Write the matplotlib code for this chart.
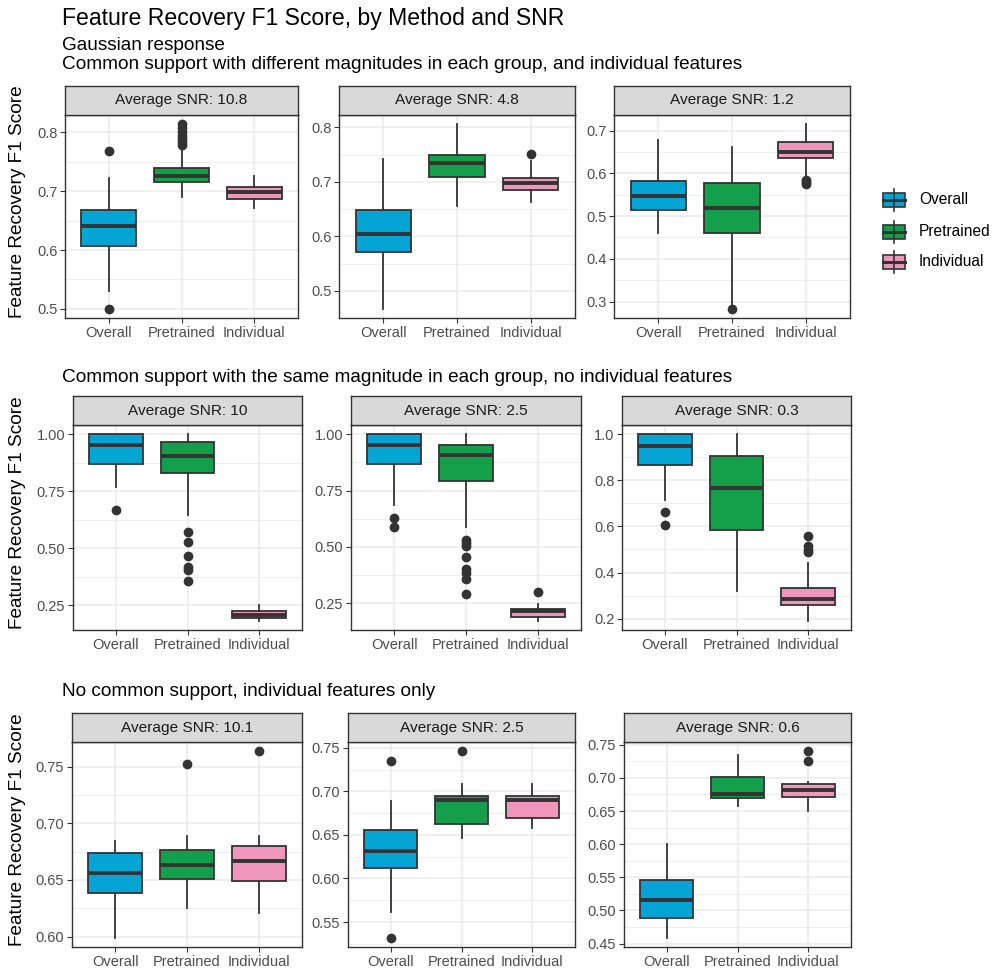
import matplotlib
matplotlib.use("Agg")
import matplotlib.pyplot as plt
from matplotlib.patches import Rectangle
from matplotlib.ticker import MultipleLocator, FormatStrFormatter

plt.rcParams['font.family'] = ['Liberation Sans', 'DejaVu Sans']

W, H = 993, 971

methods = ["Overall", "Pretrained", "Individual"]
colors = ["#04A4D4", "#14A04A", "#F096BC"]

title = "Feature Recovery F1 Score, by Method and SNR"
row_titles = [
    "Gaussian response\nCommon support with different magnitudes in each group, and individual features",
    "Common support with the same magnitude in each group, no individual features",
    "No common support, individual features only",
]
snr = ["10.8", "4.8", "1.2", "10", "2.5", "0.3", "10.1", "2.5", "0.6"]

# box statistics per panel (row-major), one value per method
q1 = [[0.607, 0.715, 0.687], [0.571, 0.709, 0.686], [0.515, 0.461, 0.637],
      [0.868, 0.831, 0.192], [0.866, 0.792, 0.190], [0.866, 0.585, 0.258],
      [0.638, 0.651, 0.649], [0.612, 0.662, 0.669], [0.488, 0.670, 0.671]]
med = [[0.641, 0.726, 0.699], [0.605, 0.735, 0.698], [0.546, 0.520, 0.651],
       [0.953, 0.907, 0.207], [0.954, 0.908, 0.217], [0.948, 0.769, 0.284],
       [0.656, 0.663, 0.667], [0.631, 0.690, 0.690], [0.516, 0.676, 0.681]]
q3 = [[0.668, 0.740, 0.707], [0.649, 0.750, 0.708], [0.583, 0.577, 0.674],
      [1.000, 0.966, 0.223], [1.000, 0.951, 0.224], [1.000, 0.907, 0.331],
      [0.674, 0.676, 0.680], [0.656, 0.695, 0.695], [0.546, 0.701, 0.690]]
lo = [[0.531, 0.691, 0.672], [0.467, 0.656, 0.664], [0.461, 0.292, 0.589],
      [0.769, 0.645, 0.182], [0.688, 0.588, 0.172], [0.714, 0.322, 0.191],
      [0.599, 0.625, 0.621], [0.561, 0.646, 0.658], [0.459, 0.658, 0.650]]
hi = [[0.723, 0.769, 0.726], [0.743, 0.806, 0.738], [0.678, 0.661, 0.715],
      [1.000, 1.000, 0.250], [1.000, 1.000, 0.245], [1.000, 1.000, 0.441],
      [0.684, 0.689, 0.689], [0.689, 0.709, 0.709], [0.601, 0.735, 0.693]]
fliers = [
    [[0.768, 0.500], [0.814, 0.808, 0.800, 0.794, 0.789, 0.783, 0.779], []],
    [[], [], [0.752]],
    [[], [0.283], [0.585, 0.580, 0.576]],
    [[0.667], [0.571, 0.527, 0.468, 0.417, 0.405, 0.357], []],
    [[0.628, 0.588], [0.529, 0.517, 0.502, 0.455, 0.401, 0.386, 0.357, 0.290], [0.299]],
    [[0.663, 0.607], [], [0.557, 0.514, 0.499, 0.488]],
    [[], [0.752], [0.7635]],
    [[0.735, 0.532], [0.746], []],
    [[], [], [0.740, 0.725]],
]
tick_step = [0.1, 0.1, 0.1, 0.25, 0.25, 0.2, 0.05, 0.05, 0.05]
tick_fmt = ["%.1f", "%.1f", "%.1f", "%.2f", "%.2f", "%.1f", "%.2f", "%.2f", "%.2f"]

# panel boxes in pixels: left, right, top (below strip), bottom
rows_px = [(115, 318), (425, 630), (742, 947)]
cols_px = [[(65, 298), (339, 575), (614, 850)],
           [(73, 302), (351, 581), (622, 851)],
           [(72, 302), (348, 575), (624, 851)]]
strip_h = 29
subtitle_y = [55, 377, 692]


def frac(l, t, r, b):
    return [l / W, 1 - b / H, (r - l) / W, (b - t) / H]


fig = plt.figure(figsize=(W / 100, H / 100), dpi=100)
fig.text(62 / W, 1 - 18 / H, title, fontsize=16.6, va='center', color='black')

dark = '#333333'
for r in range(3):
    t, b = rows_px[r]
    fig.text(62 / W, 1 - subtitle_y[r] / H, row_titles[r], fontsize=13.7,
             va='center', color='black', linespacing=1.15)
    fig.text(18 / W, 1 - (t + b - strip_h) / 2 / H, "Feature Recovery F1 Score",
             rotation=90, fontsize=13.7, va='center', ha='center')
    for c in range(3):
        k = r * 3 + c
        l, rr = cols_px[r][c]
        ax = fig.add_axes(frac(l, t, rr, b))
        stats = []
        for m in range(3):
            stats.append(dict(med=med[k][m], q1=q1[k][m], q3=q3[k][m],
                              whislo=lo[k][m], whishi=hi[k][m],
                              fliers=fliers[k][m]))
        bp = ax.bxp(stats, positions=[1, 2, 3], widths=0.75, patch_artist=True,
                    showcaps=False,
                    boxprops=dict(edgecolor=dark, linewidth=1.3),
                    medianprops=dict(color=dark, linewidth=2.8),
                    whiskerprops=dict(color=dark, linewidth=1.3),
                    flierprops=dict(marker='o', markerfacecolor=dark,
                                    markeredgecolor=dark, markersize=6))
        for patch, col in zip(bp['boxes'], colors):
            patch.set_facecolor(col)
        allv = [v for m in range(3) for v in [lo[k][m], hi[k][m]] + fliers[k][m]]
        vmin, vmax = min(allv), max(allv)
        pad = (vmax - vmin) * 0.05
        ax.set_ylim(vmin - pad, vmax + pad)
        ax.set_xlim(0.4, 3.6)
        ax.set_xticks([1, 2, 3])
        ax.set_xticklabels(methods)
        ax.yaxis.set_major_locator(MultipleLocator(tick_step[k]))
        ax.yaxis.set_minor_locator(MultipleLocator(tick_step[k] / 2))
        ax.yaxis.set_major_formatter(FormatStrFormatter(tick_fmt[k]))
        ax.set_axisbelow(True)
        ax.grid(True, which='major', color='#EBEBEB', linewidth=1.1)
        ax.grid(True, which='minor', axis='y', color='#EBEBEB', linewidth=0.6)
        ax.tick_params(axis='both', which='major', length=3.5, color=dark,
                       labelcolor='#4D4D4D', labelsize=10.5, pad=2)
        ax.tick_params(axis='y', which='minor', length=0)
        for s in ax.spines.values():
            s.set_color(dark)
            s.set_linewidth(1.0)
        # facet strip
        sax = fig.add_axes(frac(l, t - strip_h, rr, t))
        sax.set_facecolor('#D9D9D9')
        sax.set_xticks([])
        sax.set_yticks([])
        for s in sax.spines.values():
            s.set_color(dark)
            s.set_linewidth(1.0)
        sax.text(0.5, 0.5, "Average SNR: " + snr[k], ha='center', va='center',
                 fontsize=11.1, color='#1A1A1A', transform=sax.transAxes)

# legend with box-shaped keys
lax = fig.add_axes(frac(876, 180, 993, 280))
lax.set_xlim(0, 117)
lax.set_ylim(100, 0)
lax.axis('off')
key_y = [20, 52, 82]
for m in range(3):
    y = key_y[m]
    lax.plot([18, 18], [y - 11, y + 11], color=dark, linewidth=1.2)
    lax.add_patch(Rectangle((7, y - 7), 22, 14, facecolor=colors[m],
                            edgecolor=dark, linewidth=1.2))
    lax.plot([7, 29], [y, y], color=dark, linewidth=2.2)
    lax.text(43, y, methods[m], va='center', fontsize=11.2, color='black')

fig.savefig("out.png", dpi=100)
